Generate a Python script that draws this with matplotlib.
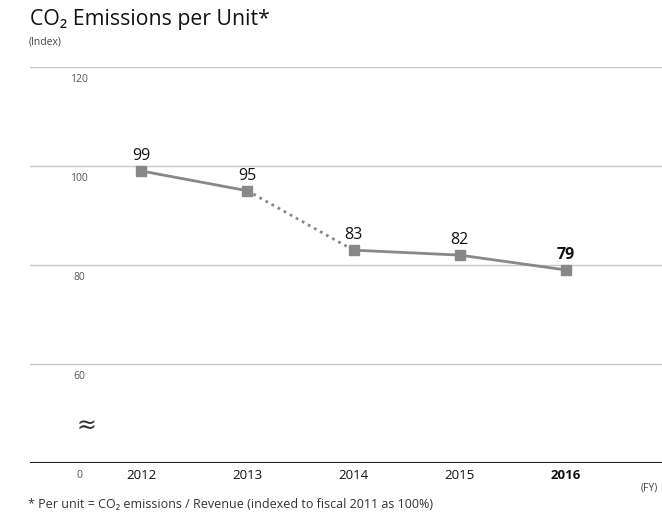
import numpy as np
import matplotlib.pyplot as plt

years = [2012, 2013, 2014, 2015, 2016]
values = [99, 95, 83, 82, 79]
y_ticks = [40, 60, 80, 100, 120]
y_tick_labels = ['0', '60', '80', '100', '120']

plt.rcParams['font.family'] = ['Open Sans', 'DejaVu Sans']

fig = plt.figure(figsize=(6.62, 5.15), dpi=100)
ax = fig.add_axes([30 / 662, 1 - 463 / 515, 1 - 30 / 662, (463 - 67) / 515])
ax.set_xlim(2012 - 111 / 106, 2016 + 96 / 106)
ax.set_ylim(40, 120)

for y in y_ticks[1:]:
    ax.axhline(y, color='#c8c8c8', lw=1, zorder=1)
ax.axhline(40, color='#222222', lw=1.5, zorder=1)

grey = '#888888'
ax.plot(years[:2], values[:2], color=grey, lw=2, zorder=2)
ax.plot(years[1:3], values[1:3], color=grey, lw=2, ls=(0, (1, 1.5)), zorder=2)
ax.plot(years[2:], values[2:], color=grey, lw=2, zorder=2)
ax.plot(years, values, ls='none', marker='s', ms=6.5, color=grey, zorder=3)

for i, (x, v) in enumerate(zip(years, values)):
    ax.annotate(str(v), (x, v), xytext=(0, 5), textcoords='offset points',
                ha='center', va='bottom', fontsize=11.5, color='#111111',
                fontweight='bold' if i == len(years) - 1 else 'normal')

for y, lab in zip(y_ticks, y_tick_labels):
    ax.annotate(lab, (2012 - 62 / 106, y), xytext=(0, -5), textcoords='offset points',
                ha='center', va='top', fontsize=7.5, color='#555555')

for i, x in enumerate(years):
    ax.annotate(str(x), (x, 40), xytext=(0, -4), textcoords='offset points',
                ha='center', va='top', fontsize=9.5, color='#111111',
                fontweight='bold' if i == len(years) - 1 else 'normal')

ax.text(2012 - 55 / 106, 47.5, '≈', ha='center', va='center', fontsize=17, color='#333333',
        family='DejaVu Sans')

for s in ax.spines.values():
    s.set_visible(False)
ax.set_xticks([])
ax.set_yticks([])

fig.text(30 / 662, 1 - 19 / 515, 'CO₂ Emissions per Unit*', fontsize=15.3, va='center', ha='left',
         color='#111111')
fig.text(29 / 662, 1 - 42 / 515, '(Index)', fontsize=7.5, va='center', ha='left', color='#444444')
fig.text(641 / 662, 1 - 488 / 515, '(FY)', fontsize=7.5, va='center', ha='left', color='#444444')
fig.text(28 / 662, 1 - 504 / 515, '* Per unit = CO₂ emissions / Revenue (indexed to fiscal 2011 as 100%)',
         fontsize=9, va='center', ha='left', color='#333333')

fig.savefig('out.png', dpi=100)
